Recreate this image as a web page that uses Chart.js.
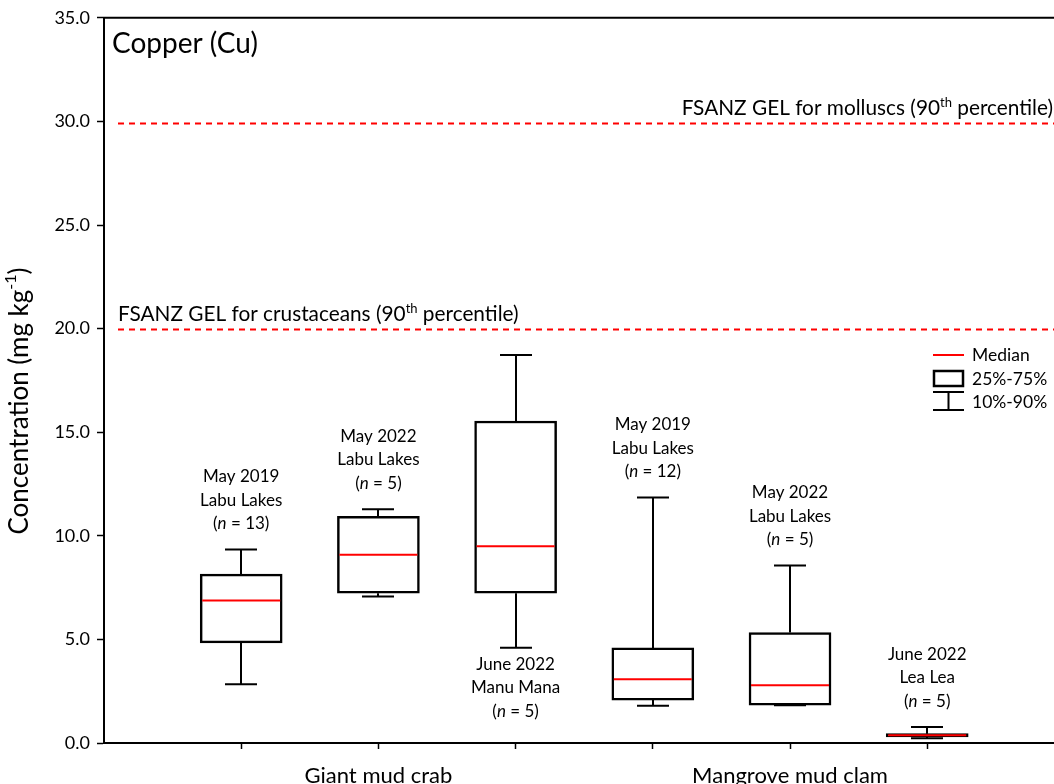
<!DOCTYPE html>
<html>
<head>
<meta charset="utf-8">
<title>Copper (Cu)</title>
<script src="https://cdn.jsdelivr.net/npm/chart.js@4.4.1/dist/chart.umd.min.js"></script>
<style>
  html, body { margin: 0; padding: 0; background: #fff; }
  canvas { display: block; }
</style>
</head>
<body>
<canvas id="chart" width="1054" height="784"></canvas>
<script>
// species groups along the x axis, and which group each box belongs to
const groups = ['Giant mud crab', 'Mangrove mud clam'];
const boxGroup = [0, 0, 0, 1, 1, 1];
const boxX = [1, 2, 3, 4, 5, 6];

// sampling event per box
const surveys = ['May 2019', 'May 2022', 'June 2022', 'May 2019', 'May 2022', 'June 2022'];
const sites = ['Labu Lakes', 'Labu Lakes', 'Manu Mana', 'Labu Lakes', 'Labu Lakes', 'Lea Lea'];
const sampleSizes = [13, 5, 5, 12, 5, 5];
const labelBelow = [false, false, true, false, false, false];

// Cu concentration (mg/kg) percentiles
const p10 = [2.84, 7.07, 4.60, 1.80, 1.82, 0.23];
const q1 = [4.83, 7.23, 7.23, 2.07, 1.83, 0.29];
const median = [6.88, 9.08, 9.50, 3.08, 2.79, 0.37];
const q3 = [8.15, 10.94, 15.54, 4.59, 5.33, 0.45];
const p90 = [9.34, 11.28, 18.72, 11.85, 8.57, 0.77];

// food standard guideline levels
const gelNames = ['crustaceans', 'molluscs'];
const gelValues = [20.0, 29.9];

const legendLabels = ['Median', '25%-75%', '10%-90%'];

const FONT = 'Lato, "Open Sans", sans-serif';
const RED = '#ff0000';

const groupCenters = groups.map((g, gi) => {
  const xs = boxX.filter((x, i) => boxGroup[i] === gi);
  return xs.reduce((a, b) => a + b, 0) / xs.length;
});

// draws a row of text pieces (different fonts / raised superscripts) as one line
function drawRuns(ctx, runs, x, y, align) {
  let total = 0;
  runs.forEach(r => { ctx.font = r.font; total += ctx.measureText(r.text).width; });
  let cx = align === 'center' ? x - total / 2 : align === 'right' ? x - total : x;
  ctx.textAlign = 'left';
  runs.forEach(r => {
    ctx.font = r.font;
    ctx.fillText(r.text, cx, y - (r.rise || 0));
    cx += ctx.measureText(r.text).width;
  });
}

const boxPlot = {
  id: 'boxPlot',
  beforeDatasetsDraw(chart) {
    const { ctx, chartArea, scales: { x, y } } = chart;
    ctx.save();

    // guideline levels
    ctx.strokeStyle = RED;
    ctx.lineWidth = 2;
    ctx.setLineDash([6, 5]);
    gelValues.forEach(v => {
      const py = Math.round(y.getPixelForValue(v)) + 0.5;
      ctx.beginPath();
      ctx.moveTo(chartArea.left + 14, py);
      ctx.lineTo(chartArea.right, py);
      ctx.stroke();
    });
    ctx.setLineDash([]);

    ctx.fillStyle = '#000';
    ctx.textBaseline = 'alphabetic';
    gelNames.forEach((name, i) => {
      const py = y.getPixelForValue(gelValues[i]) - 8;
      const runs = [
        { text: 'FSANZ GEL for ' + name + ' (90', font: '20.8px ' + FONT },
        { text: 'th', font: '13px ' + FONT, rise: 8 },
        { text: ' percentile)', font: '20.8px ' + FONT }
      ];
      if (i === 0) drawRuns(ctx, runs, chartArea.left + 14, py, 'left');
      else drawRuns(ctx, runs, chartArea.right - 1, py, 'right');
    });

    // whiskers
    ctx.strokeStyle = '#000';
    ctx.lineWidth = 2;
    boxX.forEach((bx, i) => {
      const px = Math.round(x.getPixelForValue(bx));
      [[q3[i], p90[i]], [q1[i], p10[i]]].forEach(([from, to]) => {
        const y0 = y.getPixelForValue(from);
        const y1 = y.getPixelForValue(to);
        ctx.beginPath();
        ctx.moveTo(px, y0);
        ctx.lineTo(px, y1);
        ctx.moveTo(px - 16, y1);
        ctx.lineTo(px + 16, y1);
        ctx.stroke();
      });
    });
    ctx.restore();
  },
  afterDatasetsDraw(chart) {
    const { ctx, chartArea, scales: { x, y } } = chart;
    const bars = chart.getDatasetMeta(0).data;
    ctx.save();

    // medians
    ctx.strokeStyle = RED;
    ctx.lineWidth = 2;
    bars.forEach((bar, i) => {
      const py = y.getPixelForValue(median[i]);
      ctx.beginPath();
      ctx.moveTo(bar.x - bar.width / 2 + 2, py);
      ctx.lineTo(bar.x + bar.width / 2 - 2, py);
      ctx.stroke();
    });

    // sampling labels
    ctx.fillStyle = '#000';
    ctx.textBaseline = 'middle';
    const lh = 23.3;
    boxX.forEach((bx, i) => {
      const px = x.getPixelForValue(bx);
      const lines = [
        [{ text: surveys[i], font: '17px ' + FONT }],
        [{ text: sites[i], font: '17px ' + FONT }],
        [
          { text: '(', font: '17px ' + FONT },
          { text: 'n', font: 'italic 17px ' + FONT },
          { text: ' = ' + sampleSizes[i] + ')', font: '17px ' + FONT }
        ]
      ];
      let y0;
      if (labelBelow[i]) y0 = y.getPixelForValue(p10[i]) + 17;
      else y0 = y.getPixelForValue(p90[i]) - 26 - 2 * lh;
      lines.forEach((runs, k) => drawRuns(ctx, runs, px, y0 + k * lh, 'center'));
    });

    // legend
    const lx = chartArea.right - 121;
    ctx.lineWidth = 2;
    ctx.strokeStyle = RED;
    ctx.beginPath();
    ctx.moveTo(lx, 355);
    ctx.lineTo(lx + 31, 355);
    ctx.stroke();
    ctx.strokeStyle = '#000';
    ctx.lineWidth = 2.5;
    ctx.strokeRect(lx + 1, 371, 29, 15);
    ctx.lineWidth = 2;
    ctx.beginPath();
    ctx.moveTo(lx, 392); ctx.lineTo(lx + 31, 392);
    ctx.moveTo(lx + 15.5, 392); ctx.lineTo(lx + 15.5, 410);
    ctx.moveTo(lx, 410); ctx.lineTo(lx + 31, 410);
    ctx.stroke();
    ctx.font = '17.5px ' + FONT;
    ctx.textAlign = 'left';
    [355, 379, 402].forEach((ly, k) => ctx.fillText(legendLabels[k], lx + 39, ly));

    ctx.restore();
  },
  afterDraw(chart) {
    const { ctx, chartArea } = chart;
    ctx.save();
    // top frame
    ctx.strokeStyle = '#000';
    ctx.lineWidth = 2;
    ctx.beginPath();
    ctx.moveTo(chartArea.left - 1, chartArea.top);
    ctx.lineTo(chartArea.right, chartArea.top);
    ctx.stroke();

    ctx.fillStyle = '#000';
    ctx.textBaseline = 'alphabetic';
    ctx.textAlign = 'left';
    ctx.font = '28px ' + FONT;
    ctx.fillText('Copper (Cu)', chartArea.left + 8, 53);

    // y axis title with superscript
    ctx.translate(20, 401);
    ctx.rotate(-Math.PI / 2);
    ctx.textBaseline = 'middle';
    drawRuns(ctx, [
      { text: 'Concentration (mg kg', font: '26px ' + FONT },
      { text: '-1', font: '16px ' + FONT, rise: 9 },
      { text: ')', font: '26px ' + FONT }
    ], 0, 0, 'center');
    ctx.restore();
  }
};

function draw() {
  new Chart(document.getElementById('chart'), {
    type: 'bar',
    data: {
      datasets: [{
        data: boxX.map((bx, i) => ({ x: bx, y: [q1[i], q3[i]] })),
        backgroundColor: '#fff',
        borderColor: '#000',
        borderWidth: 2.5,
        borderSkipped: false,
        barThickness: 82
      }]
    },
    options: {
      responsive: false,
      animation: false,
      layout: { padding: { top: 16, left: 0, right: 0, bottom: 0 } },
      plugins: { legend: { display: false }, tooltip: { enabled: false } },
      scales: {
        x: {
          type: 'linear',
          min: 0,
          max: 6.924,
          offset: false,
          afterBuildTicks: s => { s.ticks = boxX.map(v => ({ value: v })); },
          afterFit: s => { s.height = 41; },
          grid: { display: true, drawOnChartArea: false, drawTicks: true, tickLength: 6, tickColor: '#000', tickWidth: 1.5, offset: false },
          border: { display: true, color: '#000', width: 2 },
          ticks: {
            autoSkip: false,
            maxRotation: 0,
            padding: 14,
            color: '#000',
            font: { family: FONT, size: 22 },
            callback: v => {
              const g = groupCenters.findIndex(c => Math.abs(c - v) < 1e-6);
              return g >= 0 ? groups[g] : '';
            }
          }
        },
        y: {
          min: 0,
          max: 35,
          afterFit: s => { s.width = 104; },
          grid: { display: true, drawOnChartArea: false, drawTicks: true, tickLength: 7, tickColor: '#000', tickWidth: 1.5 },
          border: { display: true, color: '#000', width: 2 },
          ticks: {
            stepSize: 5,
            padding: 7,
            color: '#000',
            font: { family: FONT, size: 18 },
            callback: v => v.toFixed(1)
          }
        }
      }
    },
    plugins: [boxPlot]
  });
}

const fontsReady = document.fonts
  ? Promise.all(['17px Lato', 'italic 17px Lato'].map(f => document.fonts.load(f))).catch(() => {})
  : Promise.resolve();
fontsReady.then(draw);
</script>
</body>
</html>
